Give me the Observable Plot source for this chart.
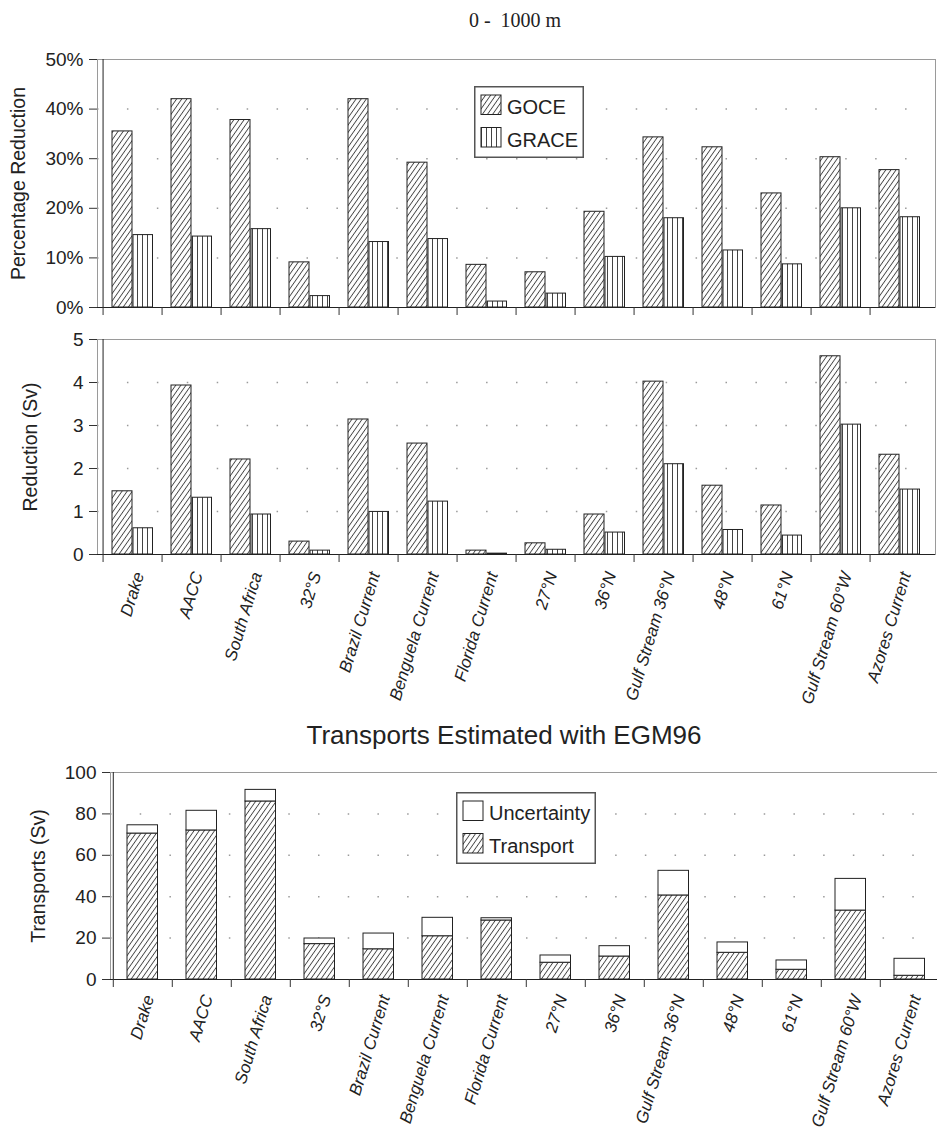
<!DOCTYPE html>
<html><head><meta charset="utf-8">
<script src="https://cdn.jsdelivr.net/npm/d3@7"></script>
<script src="https://cdn.jsdelivr.net/npm/@observablehq/plot@0.6"></script>
<style>
html,body{margin:0;padding:0;background:#fff;overflow:hidden;}
#root{position:relative;width:937px;height:1133px;overflow:hidden;font-family:"Liberation Sans",Arial,sans-serif;color:#222;}
.abs{position:absolute;}
</style></head><body>
<svg width="0" height="0" style="position:absolute">
<defs>
<pattern id="hatchDiag" patternUnits="userSpaceOnUse" width="4.2" height="10" patternTransform="rotate(35)">
<rect width="4.2" height="10" fill="#fff"/>
<line x1="2.1" y1="0" x2="2.1" y2="10" stroke="#444" stroke-width="0.9"/>
</pattern>
<pattern id="hatchVert" patternUnits="userSpaceOnUse" width="5" height="10">
<rect width="5" height="10" fill="#fff"/>
<line x1="2.5" y1="0" x2="2.5" y2="10" stroke="#444" stroke-width="1"/>
</pattern>
</defs></svg>
<div id="root"></div>
<script>
// ---------- data ----------
const categories = ["Drake","AACC","South Africa","32°S","Brazil Current","Benguela Current","Florida Current","27°N","36°N","Gulf Stream 36°N","48°N","61°N","Gulf Stream 60°W","Azores Current"];
const gocePct  = [35.5, 42.0, 37.8, 9.1, 42.0, 29.2, 8.6, 7.1, 19.3, 34.3, 32.3, 23.0, 30.3, 27.7];
const gracePct = [14.6, 14.3, 15.8, 2.3, 13.2, 13.8, 1.2, 2.8, 10.2, 18.0, 11.5, 8.7, 20.0, 18.2];
const goceSv   = [1.47, 3.93, 2.21, 0.30, 3.14, 2.58, 0.09, 0.26, 0.93, 4.02, 1.60, 1.14, 4.61, 2.32];
const graceSv  = [0.61, 1.32, 0.93, 0.09, 0.99, 1.23, 0.02, 0.11, 0.51, 2.10, 0.57, 0.44, 3.02, 1.51];
const transport   = [70.5, 72.0, 86.0, 17.1, 14.6, 20.9, 28.5, 8.1, 11.1, 40.6, 12.9, 4.7, 33.3, 1.8];
const uncertainty = [4.0, 9.5, 5.6, 2.7, 7.6, 8.9, 1.1, 3.5, 5.0, 11.9, 5.0, 4.5, 15.3, 8.2];
const pctTicks = [0, 10, 20, 30, 40, 50];
const svTicks = [0, 1, 2, 3, 4, 5];
const trTicks = [0, 20, 40, 60, 80, 100];
const mainTitle = "0 -  1000 m";
const bottomTitle = "Transports Estimated with EGM96";

const pctRows = categories.map((c, i) => ({cat: c, goce: gocePct[i], grace: gracePct[i]}));
const svRows = categories.map((c, i) => ({cat: c, goce: goceSv[i], grace: graceSv[i]}));
const trRows = categories.map((c, i) => ({cat: c, transport: transport[i], unc: uncertainty[i]}));

const FONT = '"Liberation Sans", Arial, sans-serif';
const root = document.getElementById("root");
function place(el, left, top) {
  const d = document.createElement("div");
  d.className = "abs"; d.style.left = left + "px"; d.style.top = top + "px";
  d.appendChild(el); root.appendChild(d); return d;
}
const baseStyle = {fontFamily: FONT, fontSize: "19px", color: "#222", background: "transparent", maxWidth: "none", overflow: "visible"};
const gridStyle = {stroke: "#9a9a9a", strokeWidth: 1.5};
const xLabelStyle = {rotate: -73, textAnchor: "end", lineAnchor: "middle", dx: 6, fontSize: 17, fontStyle: "italic", fill: "#222"};

function grouped(rows, {top, height, mt, mb, domain, ticks, fmt, label, labelDx, xLabels, gridTicks}) {
  const ml = 97, mr = 2, width = 937;
  const bw = (width - ml - mr) / categories.length;
  const marks = [
    Plot.frame({stroke: "#9a9a9a"}),
    Plot.ruleY(gridTicks, {...gridStyle, strokeDasharray: `1.5 ${bw / 2 - 1.5}`}),
    Plot.barY(rows, {x: "cat", y: "goce", fill: "url(#hatchDiag)", stroke: "#222", strokeWidth: 1, insetLeft: 9, insetRight: 30}),
    Plot.barY(rows, {x: "cat", y: "grace", fill: "url(#hatchVert)", stroke: "#222", strokeWidth: 1, insetLeft: 30, insetRight: 9.5}),
    Plot.ruleY([0], {stroke: "#222"}),
    Plot.ruleX([categories[0]], {dx: -bw / 2, stroke: "#222"}),
    Plot.axisX({tickSize: 8, fill: "none", stroke: "#333", dx: -bw / 2, label: null}),
    Plot.axisY({ticks, tickFormat: fmt, tickSize: 8, tickPadding: 6, label: null, stroke: "#333", fill: "#222"}),
    Plot.text([label], {frameAnchor: "left", rotate: -90, dx: labelDx, text: d => d, fontSize: 19.5, textAnchor: "middle", fill: "#222"})
  ];
  if (xLabels) marks.push(Plot.text(categories, {x: d => d, text: d => d, frameAnchor: "bottom", dy: 18, ...xLabelStyle}));
  const p = Plot.plot({
    width, height, marginTop: mt, marginBottom: mb, marginLeft: ml, marginRight: mr,
    style: baseStyle,
    x: {type: "band", domain: categories, padding: 0},
    y: {domain},
    marks
  });
  place(p, 0, top);
}

// title
const t1 = document.createElement("div");
t1.textContent = mainTitle;
Object.assign(t1.style, {fontFamily: '"Liberation Serif", "Times New Roman", serif', fontSize: "20px", whiteSpace: "pre", lineHeight: "20px", width: "300px", textAlign: "center"});
place(t1, 515 - 150, 10);

grouped(pctRows, {top: 40, height: 280, mt: 19, mb: 13, domain: [0, 50], ticks: pctTicks, fmt: d => d + "%", label: "Percentage Reduction", labelDx: -79, xLabels: false, gridTicks: [10, 20, 30, 40]});
grouped(svRows, {top: 325, height: 385, mt: 14, mb: 156, domain: [0, 5], ticks: svTicks, fmt: d => String(d), label: "Reduction (Sv)", labelDx: -67, xLabels: true, gridTicks: [1, 2, 3, 4]});

// bottom title
const t2 = document.createElement("div");
t2.textContent = bottomTitle;
Object.assign(t2.style, {fontFamily: FONT, fontSize: "26px", whiteSpace: "pre", lineHeight: "26px", width: "600px", textAlign: "center", color: "#222"});
place(t2, 504 - 300, 722);

// bottom panel
(function () {
  const ml = 110, mr = 3, width = 945;
  const bw = (width - ml - mr) / categories.length;
  const p = Plot.plot({
    width, height: 373, marginTop: 12, marginBottom: 154, marginLeft: ml, marginRight: mr,
    style: baseStyle,
    x: {type: "band", domain: categories, padding: 0},
    y: {domain: [0, 100]},
    marks: [
      Plot.frame({stroke: "#9a9a9a"}),
      Plot.ruleY([20, 40, 60, 80], {...gridStyle, strokeDasharray: `1.5 ${bw / 2 - 1.5}`}),
      Plot.barY(trRows, {x: "cat", y1: 0, y2: "transport", fill: "url(#hatchDiag)", stroke: "#222", strokeWidth: 1, insetLeft: 14, insetRight: 14.5}),
      Plot.barY(trRows, {x: "cat", y1: "transport", y2: d => d.transport + d.unc, fill: "#fff", stroke: "#222", strokeWidth: 1, insetLeft: 14, insetRight: 14.5}),
      Plot.ruleY([0], {stroke: "#222"}),
      Plot.ruleX([categories[0]], {dx: -bw / 2, stroke: "#222"}),
      Plot.axisX({tickSize: 8, fill: "none", stroke: "#333", dx: -bw / 2, label: null}),
      Plot.axisY({ticks: trTicks, tickSize: 8, tickPadding: 6, label: null, stroke: "#333", fill: "#222"}),
      Plot.text(["Transports (Sv)"], {frameAnchor: "left", rotate: -90, dx: -71.5, text: d => d, fontSize: 19.5, textAnchor: "middle", fill: "#222"}),
      Plot.text(categories, {x: d => d, text: d => d, frameAnchor: "bottom", dy: 16, ...xLabelStyle})
    ]
  });
  place(p, 0, 760);
})();

// legends
const NS = "http://www.w3.org/2000/svg";
function legend(left, top, w, h, items) {
  const svg = document.createElementNS(NS, "svg");
  svg.setAttribute("width", w); svg.setAttribute("height", h);
  let html = `<rect x="0.75" y="0.75" width="${w - 1.5}" height="${h - 1.5}" fill="#fff" stroke="#555" stroke-width="1.5"/>`;
  items.forEach((it, i) => {
    const y = 9 + i * 32.5;
    html += `<rect x="7" y="${y}" width="20" height="19.5" fill="${it.fill}" stroke="#222" stroke-width="1"/>`;
    html += `<text x="33" y="${y + 19.3}" font-family='Liberation Sans, Arial, sans-serif' font-size="20" fill="#222">${it.label}</text>`;
  });
  svg.innerHTML = html;
  place(svg, left, top);
}
legend(474, 86, 110, 72, [{label: "GOCE", fill: "url(#hatchDiag)"}, {label: "GRACE", fill: "url(#hatchVert)"}]);
legend(456, 792, 140, 72, [{label: "Uncertainty", fill: "#fff"}, {label: "Transport", fill: "url(#hatchDiag)"}]);
</script>
</body></html>
